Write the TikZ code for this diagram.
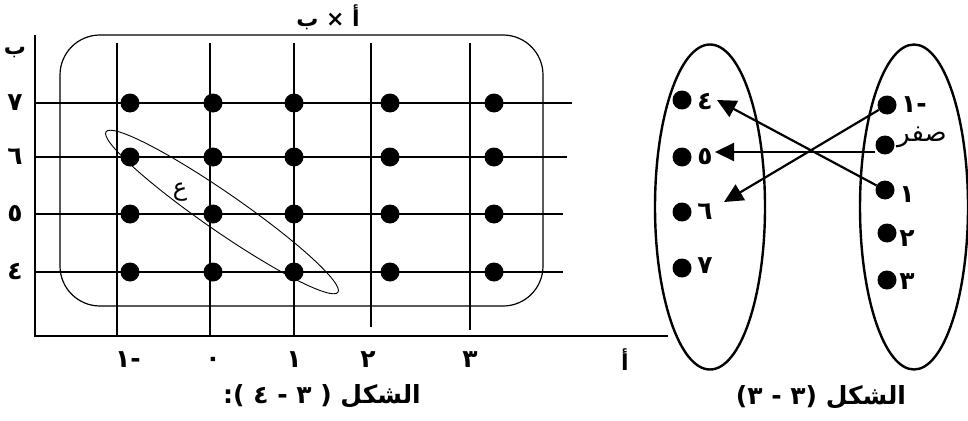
\documentclass[tikz,border=0pt]{standalone}
\usepackage{fontspec}
\usetikzlibrary{arrows.meta,shapes.geometric}
\TeXXeTstate=1
\newfontfamily\arabicfont[Script=Arabic]{DejaVu Sans}
\newfontfamily\arnum{DejaVu Sans}
\begin{document}
\begin{tikzpicture}[x=1pt,y=-1pt,
  dot/.style={circle,fill=black,inner sep=0pt,minimum size=19pt},
  gridline/.style={line width=2.6pt},
  lbl/.style={font=\arnum\bfseries\fontsize{25}{25}\selectfont, inner sep=0pt},
  ar/.style={font=\arabicfont\bfseries\fontsize{22}{22}\selectfont, inner sep=0pt},
  capstyle/.style={font=\arabicfont\bfseries\fontsize{25}{25}\selectfont, inner sep=0pt},
  arr/.style={line width=2.2pt,-{Triangle[length=19pt,width=18pt]}},
  setell/.style={draw,ellipse,line width=2.4pt,inner sep=0pt}]
\useasboundingbox (0,0) rectangle (968,420);

% ---------- left figure: A x B ----------
\coordinate (O) at (35,336);
\coordinate (Ytop) at (35,35);
\coordinate (Xend) at (668,336);
\draw[gridline] (Ytop) -- (O) -- (Xend);

\foreach \x/\b in {117/336,210/336,294/336,371/327,470/330}
  \draw[gridline] (\x,43) -- (\x,\b);
\foreach \y/\e in {103/572,157/567,214/563,272/563}
  \draw[gridline] (35,\y) -- (\e,\y);

\draw[line width=1.2pt,rounded corners=40pt] (60,35) rectangle (543,306);

\foreach \x [count=\i] in {130,213,294,390,494}
  \foreach \y [count=\j] in {103,157,214,272}
    \node[dot] (d\i\j) at (\x,\y) {};

\node[draw,ellipse,line width=0.9pt,minimum width=282pt,minimum height=38pt,
      inner sep=0pt,rotate=-34.7] (rel) at (222,212) {};
\node[font=\arabicfont\fontsize{24}{24}\selectfont,inner sep=0pt] (ain) at (180,192) {ع};

\node[ar] (title) at (328,17) {\beginR أ × ب\endR};

\node[ar,anchor=base] (yb) at (15,55) {ب};
\node[lbl] (y7) at (15,103) {٧};
\node[lbl] (y6) at (15,157) {٦};
\node[lbl] (y5) at (15,214) {٥};
\node[lbl] (y4) at (15,272) {٤};

\node[lbl] (xm1) at (128,360) {١-};
\node[lbl] (x0) at (213,362) {٠};
\node[lbl] (x1) at (294,360) {١};
\node[lbl] (x2) at (368,360) {٢};
\node[lbl] (x3) at (470,360) {٣};
\node[ar] (xa) at (625,360) {أ};

\node[capstyle] (capL) at (322,396) {\beginR الشكل ( ٣ - ٤ ):\endR};

% ---------- right figure: mapping ----------
\node[setell,minimum width=110pt,minimum height=325pt] (setB) at (710,207) {};
\node[setell,minimum width=108pt,minimum height=325pt] (setA) at (914,207) {};

\node[dot] (b4) at (682,100) {};
\node[dot] (b5) at (682,157) {};
\node[dot] (b6) at (682,212) {};
\node[dot] (b7) at (682,268) {};
\node[lbl] (lb4) at (705,102) {٤};
\node[lbl] (lb5) at (705,157) {٥};
\node[lbl] (lb6) at (705,212) {٦};
\node[lbl] (lb7) at (705,266) {٧};

\node[dot] (am1) at (887,105) {};
\node[dot] (a0) at (885,145) {};
\node[dot] (a1) at (885,190) {};
\node[dot] (a2) at (887,233) {};
\node[dot] (a3) at (887,280) {};
\node[lbl] (lam1) at (914,105) {١-};
\node[font=\arabicfont\fontsize{26}{26}\selectfont,inner sep=0pt] (la0) at (922,137) {صفر};
\node[lbl] (la1) at (907,195) {١};
\node[lbl] (la2) at (907,239) {٢};
\node[lbl] (la3) at (907,282) {٣};

\coordinate (t6) at (724,202);
\coordinate (s5) at (875,152);
\coordinate (t5) at (715,152);
\coordinate (t4) at (717,100);
\draw[arr] (am1) -- (t6);
\draw[arr] (s5) -- (t5);
\draw[arr] (a1) -- (t4);

\node[capstyle] (capR) at (821,397) {\beginR الشكل (٣ - ٣)\endR};
\end{tikzpicture}
\end{document}
